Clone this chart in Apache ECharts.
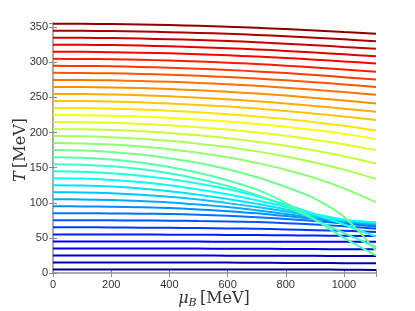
<!DOCTYPE html>
<html><head><meta charset="utf-8">
<script src="https://cdn.jsdelivr.net/npm/echarts@6/dist/echarts.min.js"></script>
<style>html,body{margin:0;padding:0;background:#fff}#c{width:415px;height:311px}</style>
</head><body><div id="c"></div>
<script>
// chemical potential grid (MeV)
const MU = [0, 100, 200, 300, 400, 500, 600, 700, 800, 900, 1000, 1110];
// temperature along each curve (MeV), from lowest to highest starting T
const T005 = [5, 5, 5, 5, 5, 5, 5, 5, 5, 5, 4.7, 4.4];
const T015 = [15, 15, 15, 15, 15, 14.9, 14.8, 14.6, 14.4, 14.2, 14, 13.9];
const T025 = [25, 25, 25, 25, 24.9, 24.8, 24.7, 24.6, 24.5, 24.4, 24.3, 24.2];
const T035 = [35, 35, 35, 35, 34.9, 34.8, 34.6, 34.5, 34.3, 34.1, 33.9, 33.8];
const T045 = [45, 45, 45, 44.9, 44.8, 44.7, 44.6, 44.6, 44.5, 44.5, 44.5, 44.5];
const T055 = [55, 55, 55, 54.8, 54.6, 54.4, 54.2, 54, 53.7, 53.3, 53, 52.6];
const T065 = [65, 65, 64.9, 64.6, 64.3, 64, 63.5, 63, 62, 61, 60, 58.5];
const T075 = [75, 75, 75, 74.8, 74.5, 74, 73.5, 72.5, 71, 69, 66.5, 63];
const T085 = [85, 85, 84.8, 84.4, 84, 83, 81.5, 79.5, 77, 74, 70.5, 66];
const T095 = [95, 94.8, 94.4, 93.6, 92.5, 90.5, 88, 85, 81, 77, 72.5, 68];
const T105 = [105, 104.7, 104, 102.5, 100.5, 97.5, 94, 89.5, 84, 78.5, 73.5, 69.5];
const T115 = [115, 114.6, 113.5, 111.5, 108.5, 104.5, 99.5, 94, 87.5, 80.5, 74.5, 70.5];
const T125 = [125, 124.5, 123, 120.3, 116.5, 111.5, 105.5, 98.5, 90.5, 82, 75, 71.5];
const T135 = [135, 134.4, 132.5, 129.5, 125, 119, 112, 103.5, 94, 84, 76, 72];
const T145 = [145, 144.3, 142, 138.5, 134, 127.5, 119.5, 109.5, 97.5, 84, 69, 52];
const T155 = [155, 154.3, 152, 148, 142, 134, 124, 111, 95, 76, 57, 37];
const T165 = [165, 164.2, 161.6, 157.4, 151, 142.7, 132, 119, 100, 76, 50, 25];
const T175 = [175, 174.3, 172.2, 168.6, 163.5, 156.6, 147.8, 136.6, 122.5, 106, 80, 32];
const T185 = [185, 184.5, 182.9, 180.1, 176.3, 171.2, 164.7, 156.8, 147.1, 135.2, 120.6, 101];
const T195 = [195, 194.6, 193.3, 191.2, 188.2, 184.2, 179.3, 173.2, 166, 157.4, 147.2, 134];
const T205 = [205, 204.6, 203.6, 201.8, 199.3, 196, 192, 187, 181.2, 174.3, 166.3, 156];
const T215 = [215, 214.7, 213.8, 212.3, 210.3, 207.5, 204.2, 200.1, 195.3, 189.8, 183.4, 175];
const T225 = [225, 224.7, 224, 222.7, 220.9, 218.6, 215.7, 212.3, 208.2, 203.5, 198.1, 191];
const T235 = [235, 234.8, 234, 232.8, 231.1, 228.9, 226.2, 223, 219.2, 214.8, 209.7, 203];
const T245 = [245, 244.8, 244.1, 243, 241.4, 239.4, 237, 234.1, 230.7, 226.9, 222.7, 218];
const T255 = [255, 254.8, 254.2, 253.1, 251.6, 249.7, 247.4, 244.7, 241.5, 237.9, 233.9, 229.5];
const T265 = [265, 264.8, 264.2, 263.3, 261.9, 260.1, 258, 255.5, 252.6, 249.3, 245.6, 241.5];
const T275 = [275, 274.8, 274.3, 273.4, 272.2, 270.7, 268.8, 266.5, 263.9, 260.9, 257.6, 254];
const T285 = [285, 284.8, 284.3, 283.5, 282.4, 280.9, 279, 276.9, 274.4, 271.6, 268.5, 265];
const T295 = [295, 294.8, 294.4, 293.5, 292.4, 291, 289.2, 287.1, 284.7, 281.9, 278.9, 275.5];
const T305 = [305, 304.8, 304.4, 303.6, 302.6, 301.2, 299.5, 297.5, 295.2, 292.6, 289.7, 286.5];
const T315 = [315, 314.9, 314.4, 313.8, 312.8, 311.5, 310, 308.2, 306.2, 303.8, 301.2, 298.3];
const T325 = [325, 324.9, 324.5, 323.8, 322.8, 321.6, 320.1, 318.4, 316.3, 314, 311.4, 308.6];
const T335 = [335, 334.9, 334.5, 333.8, 332.9, 331.7, 330.3, 328.6, 326.6, 324.4, 321.9, 319.2];
const T345 = [345, 344.9, 344.5, 343.9, 343, 341.9, 340.6, 339, 337.1, 335, 332.7, 330.1];
const T355 = [355, 354.9, 354.5, 353.9, 353.1, 352, 350.7, 349.2, 347.4, 345.4, 343.1, 340.6];
const CURVES = [T005,T015,T025,T035,T045,T055,T065,T075,T085,T095,T105,T115,T125,T135,T145,T155,T165,T175,
  T185,T195,T205,T215,T225,T235,T245,T255,T265,T275,T285,T295,T305,T315,T325,T335,T345,T355];
const X_TICKS = [0, 200, 400, 600, 800, 1000];
const Y_TICKS = [0, 50, 100, 150, 200, 250, 300, 350];

// MATLAB jet(m) palette
function jet(m){
  const n = Math.ceil(m/4);
  const u = [];
  for(let k=1;k<=n;k++) u.push(k/n);
  for(let k=0;k<n-1;k++) u.push(1);
  for(let k=n;k>=1;k--) u.push(k/n);
  const g0 = Math.ceil(n/2) - (m%4===1?1:0);
  const cols = [];
  for(let j=1;j<=m;j++){
    const pick = off => { const idx = j - off; return (idx>=1 && idx<=u.length) ? u[idx-1] : 0; };
    const r = pick(g0+n), gg = pick(g0), b = pick(g0-n);
    cols.push('rgb('+Math.round(r*255)+','+Math.round(gg*255)+','+Math.round(b*255)+')');
  }
  return cols;
}
const colors = jet(CURVES.length);

const series = CURVES.map((T,i)=>({
  type:'line', data: MU.map((m,k)=>[m,T[k]]), showSymbol:false, smooth:0.3,
  lineStyle:{width:2, color:colors[i]}, itemStyle:{color:colors[i]}, silent:true, z:2
}));

const axisColor = '#8c8c8c';
const nameRich = {
  i:{fontFamily:'DejaVu Serif', fontStyle:'italic', fontSize:16, fill:'#333', color:'#333'},
  s:{fontFamily:'DejaVu Serif', fontStyle:'italic', fontSize:11, fill:'#333', color:'#333', padding:[9,0,0,0]},
  n:{fontFamily:'DejaVu Serif', fontSize:16, fill:'#333', color:'#333'}
};
const chart = echarts.init(document.getElementById('c'), null, {renderer:'canvas'});
chart.setOption({
  animation:false,
  grid:{left:53, right:39, top:23, bottom:38, containLabel:false, outerBoundsMode:'none'},
  xAxis:[{
    type:'value', min:0, max:1110, interval:200,
    axisLine:{show:true, lineStyle:{color:axisColor, width:1.5}},
    axisTick:{show:true, inside:true, length:4, lineStyle:{color:axisColor}},
    axisLabel:{color:'#333', fontSize:11, fontFamily:'Liberation Sans', margin:6,
      formatter: v => X_TICKS.includes(v) ? String(v) : ''},
    splitLine:{show:false}
  },{
    type:'value', position:'top', min:0, max:1110, interval:200,
    axisLine:{show:true, lineStyle:{color:'#b0b0b0', width:1}},
    axisTick:{show:true, inside:true, length:4, lineStyle:{color:axisColor}},
    axisLabel:{show:false}, splitLine:{show:false}
  }],
  yAxis:[{
    type:'value', min:0, max:356, interval:50,
    axisLine:{show:true, lineStyle:{color:axisColor, width:1.5}},
    axisTick:{show:true, inside:true, length:4, lineStyle:{color:axisColor}},
    axisLabel:{color:'#333', fontSize:11, fontFamily:'Liberation Sans', margin:5,
      formatter: v => Y_TICKS.includes(v) ? String(v) : ''},
    splitLine:{show:false}
  },{
    type:'value', position:'right', min:0, max:356, interval:50,
    axisLine:{show:true, lineStyle:{color:'#b0b0b0', width:1}},
    axisTick:{show:true, inside:true, length:4, lineStyle:{color:axisColor}},
    axisLabel:{show:false}, splitLine:{show:false}
  }],
  graphic:[
    {type:'text', x:214, y:299, style:{text:'{i|μ}{s|B} {n|[MeV]}', rich:nameRich, align:'center', verticalAlign:'middle'}},
    {type:'text', x:21, y:150, rotation:Math.PI/2, style:{text:'{i|T} {n|[MeV]}', rich:nameRich, align:'center', verticalAlign:'middle'}}
  ],
  series: series
});
</script></body></html>
